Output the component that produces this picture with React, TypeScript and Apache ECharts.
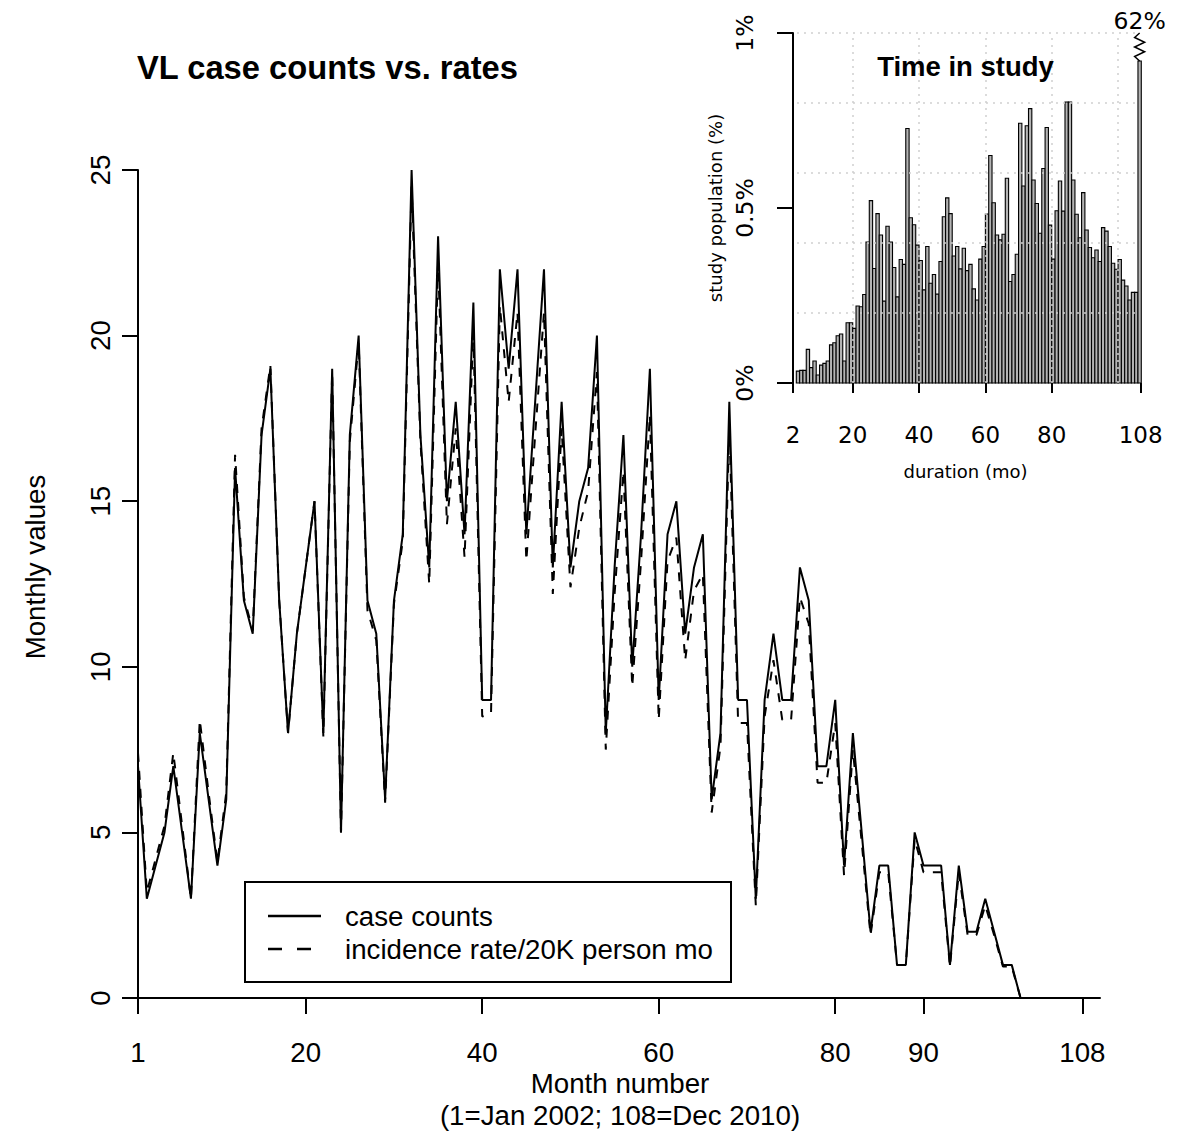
import React, { useEffect, useRef } from "react";
import * as echarts from "echarts";

// ---------- Main chart data (month 1 = Jan 2002 ... 108 = Dec 2010) ----------
const caseCounts = [
  7, 3, 4, 5, 7, 5, 3, 8, 6, 4,
  6, 16, 12, 11, 17, 19, 12, 8, 11, 13,
  15, 8, 19, 5, 17, 20, 12, 11, 6, 12,
  14, 25, 17, 13, 23, 15, 18, 14, 21, 9,
  9, 22, 19, 22, 14, 18, 22, 13, 18, 13,
  15, 16, 20, 8, 13, 17, 10, 14, 19, 9,
  14, 15, 11, 13, 14, 6, 8, 18, 9, 9,
  3, 9, 11, 9, 9, 13, 12, 7, 7, 9,
  4, 8, 5, 2, 4, 4, 1, 1, 5, 4,
  4, 4, 1, 4, 2, 2, 3, 2, 1, 1,
  0, 0, 0, 0, 0, 0, 0, 0,
];
const incidenceRate = [
  7.4, 3.2, 4.2, 5.2, 7.4, 5.2, 3.0, 8.4, 6.2, 4.1,
  6.2, 16.4, 12.1, 11.1, 17.2, 19.1, 12, 8, 11, 13,
  15, 7.9, 18.9, 5, 16.8, 19.8, 11.7, 10.8, 5.9, 11.9,
  13.8, 24.5, 16.8, 12.5, 22.2, 14.3, 17.2, 13.3, 20.1, 8.5,
  8.6, 20.9, 18, 20.7, 13.2, 17, 20.7, 12.2, 17.2, 12.4,
  14.2, 15.3, 18.9, 7.5, 12.2, 15.9, 9.4, 13.2, 17.6, 8.4,
  13.2, 13.9, 10.2, 12.3, 12.8, 5.6, 7.6, 17.2, 8.3, 8.3,
  2.8, 8.5, 10.2, 8.4, 8.4, 12.1, 11.3, 6.5, 6.5, 8.3,
  3.7, 7.5, 4.7, 1.9, 3.8, 3.8, 1, 1, 4.8, 3.8,
  3.8, 3.8, 0.95, 3.8, 1.9, 1.9, 2.8, 1.9, 0.95, 0.95,
  0, 0, 0, 0, 0, 0, 0, 0,
];
const mainXTicks = [1, 20, 40, 60, 80, 90, 108];
const mainXMin = 1;
const mainXMax = 110;
const mainYMax = 25;
const mainYStep = 5;

// ---------- Inset histogram: time in study ----------
const durationFirstMonth = 3;
const durationPct = [
  0.034, 0.036, 0.036, 0.096, 0.044, 0.063, 0.023, 0.051, 0.056, 0.063,
  0.109, 0.115, 0.135, 0.140, 0.063, 0.172, 0.172, 0.156, 0.22, 0.218,
  0.253, 0.403, 0.521, 0.327, 0.484, 0.423, 0.234, 0.448, 0.403, 0.33,
  0.246, 0.353, 0.339, 0.727, 0.472, 0.452, 0.394, 0.35, 0.266, 0.39,
  0.285, 0.31, 0.254, 0.347, 0.475, 0.529, 0.484, 0.363, 0.39, 0.326,
  0.385, 0.321, 0.339, 0.269, 0.237, 0.354, 0.39, 0.483, 0.65, 0.515,
  0.423, 0.409, 0.425, 0.585, 0.29, 0.31, 0.368, 0.742, 0.563, 0.735,
  0.784, 0.58, 0.513, 0.428, 0.613, 0.73, 0.451, 0.354, 0.492, 0.577,
  0.491, 0.803, 0.803, 0.58, 0.482, 0.415, 0.544, 0.437, 0.387, 0.358,
  0.38, 0.347, 0.444, 0.434, 0.39, 0.342, 0.325, 0.353, 0.294, 0.277,
  0.237, 0.259, 0.259,
];
const fullStayBinStart = 106; // bin drawn for the 108-month (full follow-up) group
const fullStayPct = 62;
const insetBreakLevel = 0.92;
const insetXTickPos = [2, 20, 40, 60, 80, 106.8];
const insetXTickLabels = ["2", "20", "40", "60", "80", "108"];
const insetXMin = 2;
const insetXMax = 107.5;
const insetYStep = 0.5;
const insetGridY = [0.2, 0.4, 0.6, 0.8, 1.0];
const insetGridX = [20, 40, 60, 80, 100];

const SANS = "'Liberation Sans', Arial, Helvetica, sans-serif";
const DEJA = "'DejaVu Sans', 'Liberation Sans', sans-serif";
const MAIN_FS = 27.7;

export default function App() {
  const ref = useRef<HTMLDivElement>(null);

  useEffect(() => {
    document.body.style.margin = "0";
    const chart = echarts.init(ref.current as HTMLDivElement, undefined, { renderer: "svg" });

    const solidData = caseCounts.map((v, i) => [i + 1, v]);
    const dashedData = incidenceRate.map((v, i) => [i + 1, v]);
    const histData = durationPct.map((v, i) => [durationFirstMonth + i, v]);

    const gridMarkData: any[] = [];
    insetGridY.forEach((y) => {
      gridMarkData.push([{ coord: [3.2, y] }, { coord: [106, y] }]);
    });
    insetGridX.forEach((x) => {
      gridMarkData.push([{ coord: [x, 0] }, { coord: [x, 1] }]);
    });

    const option: any = {
      animation: false,
      backgroundColor: "#ffffff",
      grid: [
        { left: 138, top: 170, width: 962, height: 828 },
        { left: 793, top: 33, width: (insetXMax - insetXMin) * 3.317, height: 350 },
      ],
      xAxis: [
        {
          gridIndex: 0,
          type: "value",
          min: mainXMin,
          max: mainXMax,
          axisLine: { show: true, onZero: false, lineStyle: { color: "#000", width: 2 } },
          axisTick: { show: true, length: 16, customValues: mainXTicks, lineStyle: { color: "#000", width: 2 } },
          axisLabel: { customValues: mainXTicks, margin: 40, fontSize: MAIN_FS, color: "#000", fontFamily: SANS },
          splitLine: { show: false },
        },
        {
          gridIndex: 1,
          type: "value",
          min: insetXMin,
          max: insetXMax,
          offset: 7,
          axisLine: { show: false },
          axisTick: { show: true, length: 10, customValues: insetXTickPos, lineStyle: { color: "#000", width: 2 } },
          axisLabel: {
            customValues: insetXTickPos,
            margin: 33,
            fontSize: 23,
            color: "#000",
            fontFamily: DEJA,
            formatter: (v: number) => {
              const idx = insetXTickPos.findIndex((p) => Math.abs(p - v) < 1e-6);
              return idx >= 0 ? insetXTickLabels[idx] : "";
            },
          },
          splitLine: { show: false },
        },
      ],
      yAxis: [
        {
          gridIndex: 0,
          type: "value",
          min: 0,
          max: mainYMax,
          interval: mainYStep,
          axisLine: { show: true, onZero: false, lineStyle: { color: "#000", width: 2 } },
          axisTick: { show: true, length: 16, lineStyle: { color: "#000", width: 2 } },
          axisLabel: { rotate: 90, margin: 24, fontSize: MAIN_FS, color: "#000", fontFamily: SANS },
          splitLine: { show: false },
        },
        {
          gridIndex: 1,
          type: "value",
          min: 0,
          max: 1,
          interval: insetYStep,
          axisLine: { show: true, onZero: false, lineStyle: { color: "#000", width: 2 } },
          axisTick: { show: true, length: 16, lineStyle: { color: "#000", width: 2 } },
          axisLabel: {
            rotate: 90,
            margin: 36,
            fontSize: 23.5,
            color: "#000",
            fontFamily: DEJA,
            formatter: (v: number) => `${v}%`,
          },
          splitLine: { show: false },
        },
      ],
      series: [
        {
          type: "line",
          name: "case counts",
          xAxisIndex: 0,
          yAxisIndex: 0,
          data: solidData,
          symbol: "none",
          lineStyle: { color: "#000", width: 2 },
          z: 3,
        },
        {
          type: "line",
          name: "incidence rate/20K person mo",
          xAxisIndex: 0,
          yAxisIndex: 0,
          data: dashedData,
          symbol: "none",
          lineStyle: { color: "#000", width: 2, type: [9, 9] },
          z: 4,
        },
        {
          type: "custom",
          name: "time in study",
          xAxisIndex: 1,
          yAxisIndex: 1,
          data: histData,
          clip: false,
          renderItem: (params: any, api: any) => {
            const m = api.value(0);
            const v = api.value(1);
            const p0 = api.coord([m, v]);
            const p1 = api.coord([m + 1, 0]);
            return {
              type: "rect",
              shape: { x: p0[0], y: p0[1], width: p1[0] - p0[0], height: p1[1] - p0[1] },
              style: { fill: "#b4b4b4", stroke: "#000", lineWidth: 1.1 },
            };
          },
          markLine: {
            silent: true,
            symbol: "none",
            label: { show: false },
            lineStyle: { color: "#cfcfcf", width: 1.5, type: [2, 5] },
            data: gridMarkData,
            z: 10,
          },
          z: 2,
        },
        {
          type: "custom",
          name: "full follow-up",
          xAxisIndex: 1,
          yAxisIndex: 1,
          data: [[fullStayBinStart, fullStayPct]],
          clip: false,
          renderItem: (params: any, api: any) => {
            const m = api.value(0);
            const v = api.value(1);
            const shown = Math.min(v, insetBreakLevel);
            const p0 = api.coord([m, shown]);
            const p1 = api.coord([m + 1, 0]);
            const axisTop = api.coord([m, 1])[1];
            const cx = (p0[0] + p1[0]) / 2;
            const top = p0[1];
            const h = top - axisTop;
            const w = 5;
            const pts = [
              [cx, top],
              [cx - w, top - h * 0.16],
              [cx + w, top - h * 0.33],
              [cx - w, top - h * 0.5],
              [cx + w, top - h * 0.67],
              [cx - w, top - h * 0.84],
              [cx, axisTop],
            ];
            return {
              type: "group",
              children: [
                {
                  type: "rect",
                  shape: { x: p0[0], y: top, width: p1[0] - p0[0], height: p1[1] - top },
                  style: { fill: "#b4b4b4", stroke: "#000", lineWidth: 1.1 },
                },
                {
                  type: "polyline",
                  shape: { points: pts },
                  style: { fill: "none", stroke: "#000", lineWidth: 1.5 },
                },
                {
                  type: "text",
                  x: cx,
                  y: axisTop - 12,
                  style: {
                    text: `${v}%`,
                    fill: "#000",
                    fontSize: 23.5,
                    fontFamily: DEJA,
                    align: "center",
                    verticalAlign: "middle",
                  },
                },
              ],
            };
          },
          z: 3,
        },
      ],
      graphic: [
        {
          type: "text",
          left: 137,
          top: 51,
          style: { text: "VL case counts vs. rates", fill: "#000", font: `bold 32.7px ${SANS}` },
        },
        {
          type: "text",
          x: 35,
          y: 567,
          rotation: Math.PI / 2,
          style: { text: "Monthly values", fill: "#000", font: `${MAIN_FS}px ${SANS}`, align: "center", verticalAlign: "middle" },
        },
        {
          type: "text",
          x: 620,
          y: 1083,
          style: { text: "Month number", fill: "#000", font: `${MAIN_FS}px ${SANS}`, align: "center", verticalAlign: "middle" },
        },
        {
          type: "text",
          x: 620,
          y: 1115,
          style: { text: "(1=Jan 2002; 108=Dec 2010)", fill: "#000", font: `${MAIN_FS}px ${SANS}`, align: "center", verticalAlign: "middle" },
        },
        // legend
        {
          type: "rect",
          shape: { x: 245, y: 882, width: 486, height: 100 },
          style: { fill: "#fff", stroke: "#000", lineWidth: 2 },
          z: 20,
        },
        {
          type: "line",
          shape: { x1: 268, y1: 916, x2: 321, y2: 916 },
          style: { stroke: "#000", lineWidth: 2.5 },
          z: 21,
        },
        {
          type: "line",
          shape: { x1: 268, y1: 949, x2: 321, y2: 949 },
          style: { stroke: "#000", lineWidth: 2.5, lineDash: [14, 15] },
          z: 21,
        },
        {
          type: "text",
          x: 345,
          y: 916,
          style: { text: "case counts", fill: "#000", font: `${MAIN_FS}px ${SANS}`, align: "left", verticalAlign: "middle" },
          z: 21,
        },
        {
          type: "text",
          x: 345,
          y: 949,
          style: { text: "incidence rate/20K person mo", fill: "#000", font: `${MAIN_FS}px ${SANS}`, align: "left", verticalAlign: "middle" },
          z: 21,
        },
        // inset texts
        {
          type: "text",
          x: 965.5,
          y: 66,
          style: { text: "Time in study", fill: "#000", font: `bold 27.5px ${SANS}`, align: "center", verticalAlign: "middle" },
          z: 21,
        },
        {
          type: "text",
          x: 715,
          y: 208,
          rotation: Math.PI / 2,
          style: { text: "study population (%)", fill: "#000", font: `18px ${DEJA}`, align: "center", verticalAlign: "middle" },
        },
        {
          type: "text",
          x: 965.5,
          y: 471.5,
          style: { text: "duration (mo)", fill: "#000", font: `18px ${DEJA}`, align: "center", verticalAlign: "middle" },
        },
      ],
    };

    chart.setOption(option);
    return () => chart.dispose();
  }, []);

  return (
    <div
      ref={ref}
      style={{ position: "absolute", left: 0, top: 0, width: 1184, height: 1133, background: "#fff" }}
    />
  );
}
